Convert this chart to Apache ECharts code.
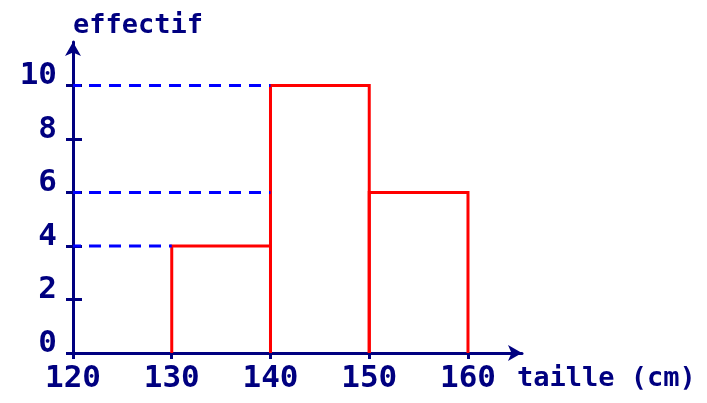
<!DOCTYPE html>
<html>
<head>
<meta charset="utf-8">
<script src="https://cdn.jsdelivr.net/npm/echarts@6/dist/echarts.min.js"></script>
<style>
html,body{margin:0;padding:0;background:#fff}
#main{width:707px;height:403px}
</style>
</head>
<body>
<div id="main"></div>
<script>
// classes de taille (cm) et effectifs
var binStart = [130, 140, 150];
var binEnd = [140, 150, 160];
var effectif = [4, 10, 6];
// pointillés : hauteur et fin
var guideLevel = [4, 10, 6];
var guideEnd = [130, 140, 140];
var xTicks = [120, 130, 140, 150, 160];
var yTicks = [0, 2, 4, 6, 8, 10];

var navy = '#000080'
var font = 'DejaVu Sans Mono'

var myChart = echarts.init(document.getElementById('main'));

var guideSeries = guideLevel.map(function (lv, i) {
    return {
        type: 'line',
        symbol: 'none',
        silent: true,
        z: 1,
        lineStyle: {color: '#0000ff', width: 3, type: [12, 8], dashOffset: 4},
        data: [[120, lv], [guideEnd[i], lv]]
    };
});

var barData = effectif.map(function (v, i) {
    return [binStart[i], binEnd[i], v];
});

option = {
    animation: false,
    grid: {left: 73, right: 185, top: 42, bottom: 50},
    xAxis: {
        type: 'value',
        min: 120,
        max: 165.47,
        name: 'taille (cm)',
        nameLocation: 'end',
        nameGap: -5,
        nameTextStyle: {color: navy, fontFamily: font, fontSize: 27, fontWeight: 'bold', verticalAlign: 'top', padding: [12, 0, 0, 0]},
        axisLine: {lineStyle: {color: navy, width: 3}, symbol: ['none', 'arrow'], symbolSize: [12, 14]},
        axisTick: {show: true, length: 6, lineStyle: {color: navy, width: 3}, customValues: xTicks},
        axisLabel: {color: navy, fontFamily: font, fontSize: 31, fontWeight: 'bold', margin: 10, customValues: xTicks},
        splitLine: {show: false}
    },
    yAxis: [{
        type: 'value',
        min: 0,
        max: 11.63,
        name: 'effectif',
        nameLocation: 'end',
        nameGap: 3,
        nameTextStyle: {color: navy, fontFamily: font, fontSize: 27, fontWeight: 'bold', align: 'left'},
        axisLine: {show: true, lineStyle: {color: navy, width: 3}, symbol: ['none', 'arrow'], symbolSize: [12, 14]},
        axisTick: {show: true, length: 7, lineStyle: {color: navy, width: 3}, customValues: yTicks},
        axisLabel: {color: navy, fontFamily: font, fontSize: 31, fontWeight: 'bold', margin: 16, verticalAlign: 'bottom', lineHeight: 19, customValues: yTicks},
        splitLine: {show: false}
    }, {
        type: 'value',
        min: 0,
        max: 11.63,
        position: 'left',
        axisLine: {show: false},
        axisTick: {show: true, inside: true, length: 9, lineStyle: {color: navy, width: 3}, customValues: yTicks},
        axisLabel: {show: false},
        splitLine: {show: false}
    }],
    series: guideSeries.concat([{
        type: 'custom',
        z: 1,
        data: barData,
        renderItem: function (params, api) {
            var a = api.coord([api.value(0), 0]);
            var b = api.coord([api.value(0), api.value(2)]);
            var c = api.coord([api.value(1), api.value(2)]);
            var d = api.coord([api.value(1), 0]);
            return {
                type: 'polyline',
                shape: {points: [a, b, c, d]},
                style: {fill: 'none', stroke: '#ff0000', lineWidth: 3}
            };
        }
    }])
};
myChart.setOption(option);
</script>
</body>
</html>
